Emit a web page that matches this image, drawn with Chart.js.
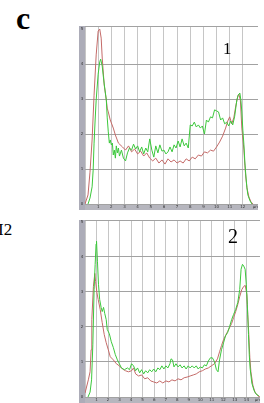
<!DOCTYPE html>
<html>
<head>
<meta charset="utf-8">
<script src="https://cdn.jsdelivr.net/npm/chart.js@4.4.1/dist/chart.umd.min.js"></script>
<style>
    html, body { margin: 0; padding: 0; background: #fff; width: 264px; height: 403px; overflow: hidden; }
    .panel { position: absolute; }
    .lbl { position: absolute; font-family: "Liberation Serif", "DejaVu Serif", serif; color: #000; line-height: 1; }
</style>
</head>
<body>
<div class="lbl" style="left:16px;top:2px;font-size:32px;font-weight:bold;">c</div>
<div class="lbl" style="left:-2px;top:221px;font-size:17px;">I2</div>
<div class="panel" style="left:79px;top:26px;width:179px;height:184px;"><canvas id="chart1"></canvas></div>
<div class="panel" style="left:79px;top:220px;width:181px;height:183px;"><canvas id="chart2"></canvas></div>
<div class="lbl" style="left:223px;top:40px;font-size:17px;">1</div>
<div class="lbl" style="left:228px;top:226px;font-size:20px;">2</div>

<script>
// tick labels
const xTicks1 = ['1', '2', '3', '4', '5', '6', '7', '8', '9', '10', '11', '12', 'µm'];
const xTicks2 = ['1', '2', '3', '4', '5', '6', '7', '8', '9', '10', '11', '12', '13', '14', 'µm'];
const yTicks = ['0', '1', '2', '3', '4', '5'];

// panel 1 - red curve
const p1RedX = [0, 0.23, 0.38, 0.54, 0.69, 0.85, 1.0, 1.12, 1.23, 1.31, 1.46, 1.62, 1.69, 1.77, 1.92, 2.15, 2.31, 2.54, 2.85, 3.08,
    3.31, 3.54, 3.77, 4.0, 4.23, 4.46, 4.69, 4.92, 5.15, 5.38, 5.62, 5.85, 6.08, 6.31, 6.54, 6.77, 7.0, 7.23, 7.46, 7.69,
    7.92, 8.15, 8.38, 8.62, 8.85, 9.08, 9.31, 9.54, 9.77, 10.0, 10.23, 10.46, 10.69, 10.85, 11.0, 11.15, 11.31, 11.46, 11.62, 11.69,
    11.81, 11.92, 12.08, 12.15, 12.23, 12.31, 12.46, 12.62, 12.77];
const p1RedY = [0, 0.26, 0.91, 1.83, 3.11, 4.26, 4.94, 5.0, 4.74, 4.17, 3.4, 2.97, 2.74, 2.63, 2.4, 2.17, 1.97, 1.74, 1.63, 1.54,
    1.66, 1.49, 1.57, 1.43, 1.51, 1.37, 1.46, 1.31, 1.23, 1.31, 1.17, 1.26, 1.14, 1.29, 1.2, 1.26, 1.17, 1.23, 1.17, 1.29,
    1.23, 1.34, 1.29, 1.4, 1.37, 1.49, 1.46, 1.54, 1.51, 1.63, 1.77, 1.94, 2.17, 2.37, 2.49, 2.29, 2.46, 2.8, 3.09, 3.14,
    2.97, 2.17, 1.54, 1.11, 0.74, 0.46, 0.2, 0.06, 0];

// panel 1 - green curve
const p1GreenX = [0.23, 0.38, 0.54, 0.62, 0.69, 0.77, 0.85, 1.0, 1.12, 1.19, 1.31, 1.38, 1.46, 1.62, 1.69, 1.77, 1.85, 1.92, 2.0, 2.08,
    2.15, 2.23, 2.31, 2.38, 2.46, 2.54, 2.62, 2.77, 2.92, 3.08, 3.23, 3.38, 3.54, 3.69, 3.85, 4.0, 4.15, 4.31, 4.46, 4.62,
    4.77, 4.92, 5.08, 5.23, 5.38, 5.54, 5.69, 5.85, 6.0, 6.15, 6.31, 6.46, 6.62, 6.77, 6.92, 7.08, 7.23, 7.38, 7.54, 7.69,
    7.85, 8.0, 8.15, 8.31, 8.46, 8.62, 8.77, 8.92, 9.08, 9.23, 9.38, 9.54, 9.69, 9.85, 10.0, 10.15, 10.31, 10.46, 10.62, 10.77,
    10.92, 11.08, 11.23, 11.38, 11.54, 11.65, 11.77, 11.85, 11.92, 12.0, 12.08, 12.15, 12.23, 12.31, 12.38, 12.54, 12.69];
const p1GreenY = [0, 0.17, 0.49, 0.97, 1.74, 2.4, 2.97, 3.71, 4.06, 4.14, 3.94, 3.69, 3.43, 2.97, 2.46, 2.06, 1.74, 1.83, 1.69, 1.74,
    1.4, 1.54, 1.31, 1.66, 1.46, 1.6, 1.37, 1.54, 1.31, 1.23, 1.46, 1.6, 1.54, 1.71, 1.57, 1.66, 1.49, 1.63, 1.43, 1.6,
    1.49, 1.86, 1.54, 1.34, 1.66, 1.46, 1.69, 1.51, 1.54, 1.43, 1.49, 1.63, 1.49, 1.69, 1.6, 1.8, 1.63, 1.86, 1.66, 1.74,
    1.6, 2.26, 2.23, 2.34, 2.2, 2.26, 2.17, 2.23, 2.0, 2.4, 2.34, 2.49, 2.46, 2.69, 2.66, 2.63, 2.4, 2.46, 2.29, 2.34,
    2.23, 2.37, 2.26, 2.51, 2.97, 3.11, 3.17, 2.97, 2.63, 2.11, 1.69, 1.2, 0.8, 0.46, 0.26, 0.09, 0];

// panel 2 - red curve
const p2RedX = [0, 0.29, 0.44, 0.53, 0.59, 0.73, 0.85, 0.92, 1.03, 1.14, 1.32, 1.49, 1.67, 1.84, 2.02, 2.19, 2.46, 2.72, 2.98, 3.25,
    3.51, 3.77, 4.04, 4.21, 4.39, 4.65, 4.91, 5.18, 5.44, 5.7, 5.96, 6.23, 6.49, 6.75, 7.02, 7.28, 7.54, 7.81, 8.07, 8.33,
    8.6, 8.86, 9.12, 9.39, 9.65, 9.91, 10.18, 10.44, 10.7, 10.96, 11.23, 11.49, 11.67, 11.84, 12.02, 12.19, 12.37, 12.54, 12.72, 12.89,
    13.07, 13.25, 13.42, 13.6, 13.77, 13.9, 14.04, 14.12, 14.21, 14.3, 14.39, 14.56, 14.74, 15.0, 15.18];
const p2RedY = [0.11, 0.49, 0.72, 1.35, 2.21, 3.16, 3.53, 3.3, 2.99, 2.79, 2.5, 2.13, 1.78, 1.55, 1.35, 1.15, 1.06, 0.95, 0.89, 0.8,
    0.75, 0.72, 0.75, 0.83, 0.66, 0.6, 0.63, 0.52, 0.55, 0.46, 0.43, 0.4, 0.46, 0.4, 0.46, 0.43, 0.49, 0.46, 0.52, 0.49,
    0.55, 0.57, 0.6, 0.63, 0.66, 0.72, 0.75, 0.8, 0.83, 0.89, 0.95, 1.09, 1.29, 1.47, 1.64, 1.75, 1.87, 1.98, 2.1, 2.27,
    2.44, 2.64, 2.87, 3.07, 3.16, 3.19, 2.93, 2.36, 1.78, 1.12, 0.72, 0.34, 0.14, 0.03, 0];

// panel 2 - green curve
const p2GreenX = [0.26, 0.44, 0.57, 0.68, 0.79, 0.88, 0.96, 1.0, 1.08, 1.17, 1.27, 1.4, 1.49, 1.61, 1.71, 1.84, 1.93, 2.11, 2.28, 2.46,
    2.63, 2.81, 2.98, 3.16, 3.42, 3.68, 3.86, 4.04, 4.21, 4.39, 4.56, 4.74, 4.91, 5.09, 5.26, 5.44, 5.61, 5.79, 5.96, 6.14,
    6.32, 6.49, 6.67, 6.84, 7.02, 7.19, 7.37, 7.46, 7.59, 7.72, 7.89, 8.07, 8.25, 8.42, 8.6, 8.77, 8.95, 9.12, 9.3, 9.47,
    9.65, 9.82, 10.0, 10.18, 10.35, 10.53, 10.7, 10.88, 11.05, 11.23, 11.4, 11.54, 11.67, 11.84, 12.02, 12.19, 12.37, 12.54, 12.72, 12.89,
    13.07, 13.25, 13.42, 13.54, 13.66, 13.77, 13.89, 13.99, 14.08, 14.18, 14.25, 14.32, 14.47, 14.65, 14.82, 15.09];
const p2GreenY = [0, 0.14, 0.49, 1.49, 3.07, 3.79, 4.37, 4.45, 3.88, 3.22, 2.79, 2.56, 2.44, 2.56, 2.39, 2.21, 1.93, 1.81, 1.58, 1.41,
    1.21, 1.06, 0.95, 0.83, 0.78, 0.83, 0.78, 0.95, 0.89, 0.75, 0.83, 0.69, 0.78, 0.66, 0.75, 0.69, 0.78, 0.72, 0.8, 0.72,
    0.83, 0.78, 0.89, 0.8, 0.89, 0.83, 0.95, 1.09, 1.06, 0.86, 0.95, 0.86, 0.92, 0.83, 0.89, 0.8, 0.89, 0.83, 0.89, 0.83,
    0.89, 0.8, 0.86, 0.83, 0.92, 0.89, 1.03, 1.12, 1.12, 1.01, 0.78, 0.72, 1.06, 1.35, 1.55, 1.75, 1.84, 2.01, 2.21, 2.36,
    2.5, 2.7, 3.07, 3.65, 3.79, 3.74, 3.65, 3.22, 2.64, 1.78, 1.21, 0.83, 0.4, 0.2, 0.09, 0.03];

function toPoints(xs, ys) {
    return xs.map((x, i) => ({ x: x, y: ys[i] }));
}

// gray axis strips and tiny tick labels
const stripPlugin = {
    id: 'strips',
    beforeDraw(chart) {
        const { ctx, chartArea: a } = chart;
        ctx.save();
        ctx.fillStyle = '#acacb8';
        ctx.fillRect(a.left - 6, a.top, 6, a.bottom - a.top + 6);
        ctx.fillStyle = '#b6b6be';
        ctx.fillRect(a.left, a.bottom, a.right - a.left, 6);
        ctx.restore();
    },
    afterDraw(chart) {
        const { ctx, chartArea: a, scales } = chart;
        const xl = chart.options.xLabelList;
        ctx.save();
        ctx.font = '4px "DejaVu Sans"';
        ctx.fillStyle = '#333';
        ctx.textAlign = 'center';
        ctx.textBaseline = 'top';
        xl.forEach((t, i) => {
            ctx.fillText(t, scales.x.getPixelForValue(i + 1), a.bottom + 1);
        });
        ctx.textAlign = 'center';
        ctx.textBaseline = 'middle';
        yTicks.forEach((t, i) => {
            ctx.fillText(t, a.left - 3, scales.y.getPixelForValue(i));
        });
        ctx.restore();
    }
};

function makeChart(id, xMax, yMax, xLabels, redX, redY, greenX, greenY) {
    const ctx = document.getElementById(id).getContext('2d');
    return new Chart(ctx, {
        type: 'line',
        data: {
            datasets: [
                { data: toPoints(greenX, greenY), borderColor: '#3cc83c', borderWidth: 1, pointRadius: 0, tension: 0 },
                { data: toPoints(redX, redY), borderColor: '#c46a68', borderWidth: 1, pointRadius: 0, tension: 0 }
            ]
        },
        options: {
            xLabelList: xLabels,
            animation: false,
            responsive: true,
            maintainAspectRatio: false,
            layout: { padding: 0 },
            plugins: { legend: { display: false }, tooltip: { enabled: false } },
            scales: {
                x: {
                    type: 'linear',
                    min: 0,
                    max: xMax,
                    grid: { color: '#c6c6c6', lineWidth: 1, drawTicks: false },
                    border: { display: false },
                    ticks: { display: false, stepSize: 1 },
                    afterFit: s => { s.height = 6; }
                },
                y: {
                    type: 'linear',
                    min: 0,
                    max: yMax,
                    grid: { color: '#a2a2a2', lineWidth: 1, drawTicks: false },
                    border: { display: false },
                    ticks: { display: false, stepSize: 1 },
                    afterFit: s => { s.width = 6; }
                }
            }
        },
        plugins: [stripPlugin]
    });
}

makeChart('chart1', 13.15, 5.086, xTicks1, p1RedX, p1RedY, p1GreenX, p1GreenY);
makeChart('chart2', 15.18, 5.057, xTicks2, p2RedX, p2RedY, p2GreenX, p2GreenY);
</script>
</body>
</html>
